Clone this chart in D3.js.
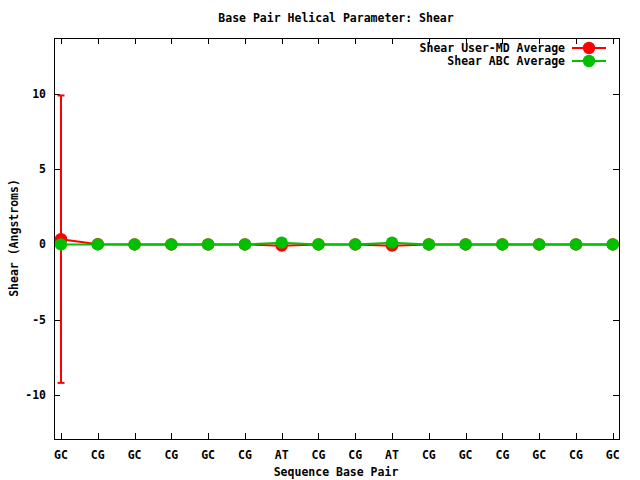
<!DOCTYPE html>
<html><head><meta charset="utf-8">
<script src="https://cdn.jsdelivr.net/npm/d3@7"></script>
<style>
body{margin:0;background:#fff;}
text{font-family:"DejaVu Sans Mono",monospace;font-weight:bold;font-size:11.5px;fill:#000;}
</style></head>
<body><svg id="c" width="640" height="480"></svg>
<script>
const categories = ["GC","CG","GC","CG","GC","CG","AT","CG","CG","AT","CG","GC","CG","GC","CG","GC"];
const userMD = [0.35,0.02,0,0,0,0,-0.08,0,0,-0.08,0,0,0,0,0,0];
const userMDErr = [9.55,0,0,0,0,0,0,0,0,0,0,0,0,0,0,0];
const abc = [0,0,0,0,0,0,0.12,0,0,0.12,0,0,0,0,0,0];
const yTicks = [-10,-5,0,5,10];
const seriesNames = ["Shear User-MD Average","Shear ABC Average"];
const colors = ["#ff0000","#00c000"];

const svg = d3.select("#c");
const L=54,R=619,T=38,B=439;
const x = d3.scaleLinear().domain([-0.19,15.17]).range([L,R]);
const y = d3.scaleLinear().domain([-12.93,13.72]).range([B,T]);

svg.append("rect").attr("width",640).attr("height",480).attr("fill","#fff");

// ticks (inward, mirrored)
const g = svg.append("g").attr("stroke","#000").attr("stroke-width",1).attr("shape-rendering","crispEdges");
categories.forEach((c,i)=>{
  const px=Math.round(x(i))+0.5;
  g.append("line").attr("x1",px).attr("x2",px).attr("y1",B).attr("y2",B-6);
  g.append("line").attr("x1",px).attr("x2",px).attr("y1",T).attr("y2",T+6);
});
yTicks.forEach(v=>{
  const py=Math.round(y(v))+0.5;
  g.append("line").attr("x1",L).attr("x2",L+6).attr("y1",py).attr("y2",py);
  g.append("line").attr("x1",R).attr("x2",R-6).attr("y1",py).attr("y2",py);
});
svg.append("rect").attr("x",L+0.5).attr("y",T+0.5).attr("width",R-L).attr("height",B-T)
  .attr("fill","none").attr("stroke","#000").attr("shape-rendering","crispEdges");

// tick labels
categories.forEach((c,i)=>{
  svg.append("text").attr("x",x(i)).attr("y",459).attr("text-anchor","middle").text(c);
});
yTicks.forEach(v=>{
  svg.append("text").attr("x",46).attr("y",y(v)+4).attr("text-anchor","end").text(v);
});
svg.append("text").attr("x",336).attr("y",22).attr("text-anchor","middle").text("Base Pair Helical Parameter: Shear");
svg.append("text").attr("x",336).attr("y",476).attr("text-anchor","middle").text("Sequence Base Pair");
svg.append("text").attr("transform","translate(18,238) rotate(-90)").attr("text-anchor","middle").text("Shear (Angstroms)");

const line = d3.line().x((d,i)=>x(i)).y(d=>y(d));
const series=[userMD,abc];
series.forEach((s,k)=>{
  svg.append("path").attr("d",line(s)).attr("fill","none").attr("stroke",colors[k]).attr("stroke-width",2);
  if(k===0){
    s.forEach((v,i)=>{
      const e=userMDErr[i]; if(!e) return;
      const gx=x(i);
      const eg=svg.append("g").attr("stroke",colors[0]).attr("stroke-width",2);
      eg.append("line").attr("x1",gx).attr("x2",gx).attr("y1",y(v+e)).attr("y2",y(v-e));
      eg.append("line").attr("x1",gx-3.5).attr("x2",gx+3.5).attr("y1",y(v+e)).attr("y2",y(v+e));
      eg.append("line").attr("x1",gx-3.5).attr("x2",gx+3.5).attr("y1",y(v-e)).attr("y2",y(v-e));
    });
  }
  svg.append("g").selectAll("circle").data(s).join("circle")
    .attr("cx",(d,i)=>x(i)).attr("cy",d=>y(d)).attr("r",6.2).attr("fill",colors[k]);
});

// legend
seriesNames.forEach((n,k)=>{
  const ly=48+k*13;
  svg.append("text").attr("x",565).attr("y",ly+4).attr("text-anchor","end").text(n);
  svg.append("line").attr("x1",572).attr("x2",606).attr("y1",ly).attr("y2",ly).attr("stroke",colors[k]).attr("stroke-width",2);
  svg.append("circle").attr("cx",589).attr("cy",ly).attr("r",6.2).attr("fill",colors[k]);
});
</script></body></html>
